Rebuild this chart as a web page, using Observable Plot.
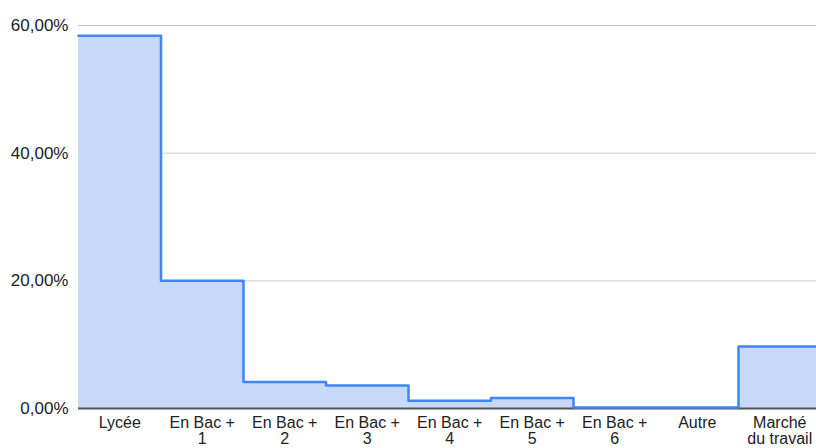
<!DOCTYPE html>
<html>
<head>
<meta charset="utf-8">
<script src="https://cdn.jsdelivr.net/npm/d3@7"></script>
<script src="https://cdn.jsdelivr.net/npm/@observablehq/plot@0.6"></script>
<style>
  html, body { margin: 0; padding: 0; background: #fff; overflow: hidden; }
  #chart svg { overflow: hidden; }
</style>
</head>
<body>
<div id="chart"></div>
<script>
const categories = ["Lycée", "En Bac +\n1", "En Bac +\n2", "En Bac +\n3", "En Bac +\n4", "En Bac +\n5", "En Bac +\n6", "Autre", "Marché\ndu travail"];
const values = [58.4, 20.0, 4.15, 3.6, 1.2, 1.65, 0.15, 0.15, 9.7];
const yTicks = [0, 20, 40, 60];

const data = values.map((v, i) => ({i, v}));
data.push({i: values.length, v: values[values.length - 1]});

const fmt = d => d.toFixed(2).replace(".", ",") + "%";

const chart = Plot.plot({
  width: 816,
  height: 448,
  marginLeft: 78,
  marginRight: 0,
  marginTop: 25,
  marginBottom: 40,
  style: {fontFamily: "'Liberation Sans', Arial, sans-serif", fontSize: "16px", color: "#222", background: "#fff"},
  x: {domain: [0, categories.length], range: [78, 820.5], axis: null},
  y: {domain: [0, 60], axis: null},
  marks: [
    Plot.ruleY(yTicks.filter(d => d > 0), {stroke: "#cccccc", strokeWidth: 1, x1: 0, x2: categories.length + 1}),
    Plot.areaY(data, {x: "i", y: "v", curve: "step-after", fill: "#c6d9f8"}),
    Plot.ruleY([0], {stroke: "#555", strokeWidth: 2, x1: 0, x2: categories.length + 1}),
    Plot.lineY(data, {x: "i", y: "v", curve: "step-after", stroke: "#4285f4", strokeWidth: 2.5, strokeLinejoin: "round"}),
    Plot.text(yTicks, {y: d => d, x: 0, text: fmt, textAnchor: "end", dx: -10, fontSize: 17, fill: "#222"}),
    Plot.text(categories, {x: (d, k) => k + 0.5, y: 0, text: d => d, lineAnchor: "top", dy: 8, fontSize: 16, lineHeight: 1.0, fill: "#222"})
  ]
});
document.getElementById("chart").appendChild(chart);
</script>
</body>
</html>
